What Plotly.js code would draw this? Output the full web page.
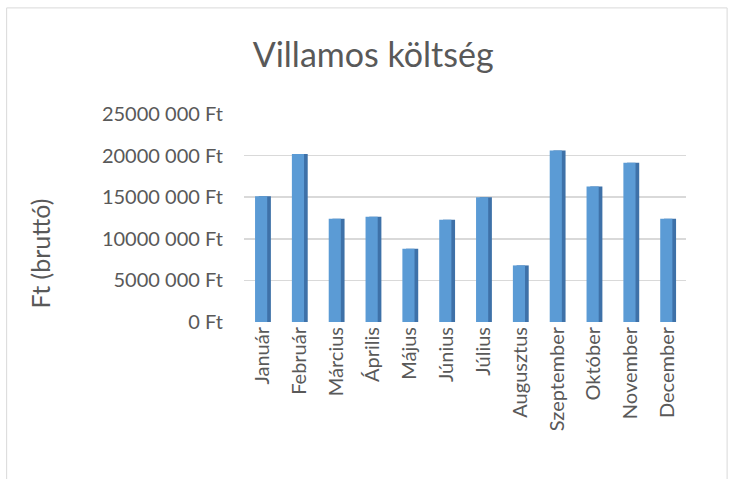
<!DOCTYPE html>
<html>
<head>
<meta charset="utf-8">
<script src="https://cdn.plot.ly/plotly-3.0.1.min.js"></script>
<style>
  body { margin: 0; background: #fff; }
  #chart { width: 736px; height: 479px; }
</style>
</head>
<body>
<div id="chart"></div>
<script>
var months = ["Január", "Február", "Március", "Április", "Május", "Június",
  "Július", "Augusztus", "Szeptember", "Október", "November", "December"];

// bruttó költség, Ft
var costs = [15100000, 20200000, 12400000, 12650000, 8800000, 12300000,
  15000000, 6800000, 20600000, 16300000, 19150000, 12400000];

var tickVals = [0, 5000000, 10000000, 15000000, 20000000, 25000000];
var tickText = ["0 Ft", "5000 000 Ft", "10000 000 Ft", "15000 000 Ft", "20000 000 Ft", "25000 000 Ft"];

var font = "Lato, 'Open Sans', sans-serif";

// dark side of each column, drawn behind the front face
var side = {
  x: months,
  y: costs,
  type: "bar",
  width: 0.33,
  offset: -0.1,
  marker: {color: "#3e71a8"},
  hoverinfo: "skip",
  showlegend: false
};

var front = {
  x: months,
  y: costs,
  type: "bar",
  width: 0.33,
  offset: -0.2,
  marker: {color: "#5b9bd5"},
  showlegend: false
};

var layout = {
  width: 736,
  height: 479,
  margin: {l: 244, r: 50, t: 114, b: 157},
  paper_bgcolor: "#fff",
  plot_bgcolor: "#fff",
  barmode: "overlay",
  font: {family: font, color: "#595959", size: 20},
  title: {
    text: "Villamos költség",
    font: {family: font, size: 34, color: "#595959"},
    x: 0.507, xanchor: "center",
    y: 0.885, yanchor: "middle"
  },
  xaxis: {
    tickangle: -90,
    showgrid: false,
    showline: false,
    ticks: "",
    tickfont: {size: 20, color: "#595959"},
    fixedrange: true
  },
  yaxis: {
    range: [0, 25000000],
    tickvals: tickVals,
    ticktext: tickText,
    showgrid: true,
    gridcolor: "#d9d9d9",
    gridwidth: 1.5,
    zeroline: false,
    showline: false,
    ticks: "",
    ticklabelstandoff: 20,
    tickfont: {size: 20, color: "#595959"},
    fixedrange: true
  },
  annotations: [{
    text: "Ft (bruttó)",
    textangle: -90,
    xref: "paper", yref: "paper",
    x: -0.4615, y: 0.33,
    xanchor: "center", yanchor: "middle",
    showarrow: false,
    font: {family: font, size: 25, color: "#595959"}
  }],
  shapes: [{
    type: "rect",
    xref: "paper", yref: "paper",
    x0: -0.537, x1: 1.093, y0: -0.79, y1: 1.51,
    line: {color: "#d9d9d9", width: 1},
    layer: "below"
  }]
};

Plotly.newPlot("chart", [side, front], layout, {displayModeBar: false, staticPlot: true});
</script>
</body>
</html>
